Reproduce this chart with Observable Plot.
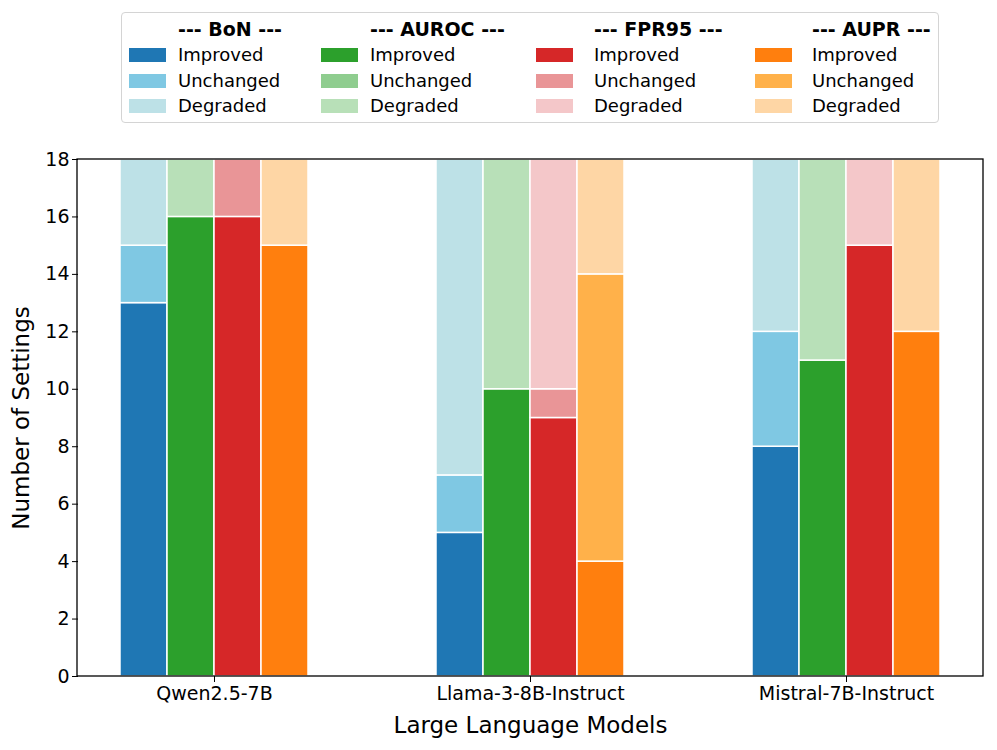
<!DOCTYPE html>
<html>
<head>
<meta charset="utf-8">
<script src="https://cdn.jsdelivr.net/npm/d3@7"></script>
<script src="https://cdn.jsdelivr.net/npm/@observablehq/plot@0.6"></script>
<style>
  body { margin: 0; background: white; font-family: "DejaVu Sans", sans-serif; }
  #wrap { position: relative; width: 997px; height: 750px; }
  #legend { position: absolute; left: 121px; top: 12px; width: 818px; height: 111px;
            border: 1.5px solid #d4d4d4; border-radius: 4px; box-sizing: border-box; }
  #legend .hdr { position: absolute; font-weight: bold; font-size: 19px; line-height: 1; transform: translateY(-50%); white-space: nowrap; }
  #legend .lbl { position: absolute; font-size: 18px; line-height: 1; transform: translateY(-50%); white-space: nowrap; }
  #legend .sw { position: absolute; width: 37px; height: 14px; transform: translateY(-50%); }
  #chart { position: absolute; left: 0; top: 135px; }
</style>
</head>
<body>
<div id="wrap">
  <div id="legend"></div>
  <div id="chart"></div>
</div>
<script>
// ---- data ----
const models = ["Qwen2.5-7B", "Llama-3-8B-Instruct", "Mistral-7B-Instruct"];
const metrics = ["BoN", "AUROC", "FPR95", "AUPR"];
const statuses = ["Improved", "Unchanged", "Degraded"];
const yTicks = [0, 2, 4, 6, 8, 10, 12, 14, 16, 18];

// counts per model (Qwen, Llama, Mistral)
const bonImproved   = [13, 5, 8];
const bonUnchanged  = [2, 2, 4];
const bonDegraded   = [3, 11, 6];
const aurocImproved  = [16, 10, 11];
const aurocUnchanged = [0, 0, 0];
const aurocDegraded  = [2, 8, 7];
const fprImproved   = [16, 9, 15];
const fprUnchanged  = [2, 1, 0];
const fprDegraded   = [0, 8, 3];
const auprImproved  = [15, 4, 12];
const auprUnchanged = [0, 10, 0];
const auprDegraded  = [3, 4, 6];

// colours per metric: Improved, Unchanged, Degraded
const bonColors   = ["#1f77b4", "#7fc8e3", "#bde1e7"];
const aurocColors = ["#2ca02c", "#8fcd8f", "#b8e0b8"];
const fprColors   = ["#d62728", "#e99597", "#f4c7c9"];
const auprColors  = ["#ff7f0e", "#ffb14a", "#fed6a5"];

const seriesByMetric = {
  BoN: [bonImproved, bonUnchanged, bonDegraded],
  AUROC: [aurocImproved, aurocUnchanged, aurocDegraded],
  FPR95: [fprImproved, fprUnchanged, fprDegraded],
  AUPR: [auprImproved, auprUnchanged, auprDegraded]
};
const colorsByMetric = { BoN: bonColors, AUROC: aurocColors, FPR95: fprColors, AUPR: auprColors };

const rows = [];
models.forEach((model, mi) => {
  metrics.forEach(metric => {
    statuses.forEach((status, si) => {
      const value = seriesByMetric[metric][si][mi];
      if (value > 0) rows.push({ model, metric, status, key: metric + "|" + status, value });
    });
  });
});
const colorDomain = [], colorRange = [];
metrics.forEach(metric => statuses.forEach((status, si) => {
  colorDomain.push(metric + "|" + status);
  colorRange.push(colorsByMetric[metric][si]);
}));

// ---- legend ----
const legend = document.getElementById("legend");
const swLeft = [7, 199, 414, 633];
const txtLeft = [56, 248, 472, 690];
const rowY = [42, 68, 93];
metrics.forEach((metric, ci) => {
  const h = document.createElement("div");
  h.className = "hdr"; h.textContent = "--- " + metric + " ---";
  h.style.left = txtLeft[ci] + "px"; h.style.top = "16px";
  legend.appendChild(h);
  statuses.forEach((status, si) => {
    const sw = document.createElement("div");
    sw.className = "sw"; sw.style.background = colorsByMetric[metric][si];
    sw.style.left = swLeft[ci] + "px"; sw.style.top = rowY[si] + "px";
    legend.appendChild(sw);
    const t = document.createElement("div");
    t.className = "lbl"; t.textContent = status;
    t.style.left = txtLeft[ci] + "px"; t.style.top = rowY[si] + "px";
    legend.appendChild(t);
  });
});

// ---- chart ----
const W = 997, H = 615, mL = 77, mR = 14, mT = 24, mB = 74;
const chart = Plot.plot({
  width: W, height: H,
  marginLeft: mL, marginRight: mR, marginTop: mT, marginBottom: mB,
  style: { fontFamily: "DejaVu Sans", fontSize: "19px", color: "black", background: "white" },
  fx: { domain: models, paddingInner: 0.14, paddingOuter: 0 },
  x: { domain: metrics, paddingInner: 0, paddingOuter: 0.85, axis: null },
  y: { domain: [0, 18] },
  color: { domain: colorDomain, range: colorRange },
  marks: [
    Plot.barY(rows, { fx: "model", x: "metric", y: "value", fill: "key", stroke: "white", strokeWidth: 1.5 }),
    Plot.axisY({ ticks: yTicks, tickSize: 6, tickPadding: 3, label: "Number of Settings", labelArrow: "none", labelAnchor: "center", labelOffset: 66, fontSize: 19 }),
    Plot.axisFx({ anchor: "bottom", tickSize: 6, tickPadding: 4, label: "Large Language Models", labelArrow: "none", labelAnchor: "center", labelOffset: 56, fontSize: 19 })
  ]
});
document.getElementById("chart").appendChild(chart);

const svg = d3.select(chart);
const yr = chart.scale("y").range;
svg.append("rect")
  .attr("x", mL).attr("y", Math.min(...yr))
  .attr("width", W - mL - mR).attr("height", Math.abs(yr[0] - yr[1]))
  .attr("fill", "none").attr("stroke", "black").attr("stroke-width", 1.3);
svg.selectAll('g[aria-label="y-axis label"], g[aria-label="fx-axis label"]').attr("font-size", 23);
svg.selectAll('g[aria-label="y-axis label"] text, g[aria-label="fx-axis label"] text').attr("font-size", 23)
  .text(function () { return this.textContent.replace(/\s*[→↑]$/, ""); });
</script>
</body>
</html>
